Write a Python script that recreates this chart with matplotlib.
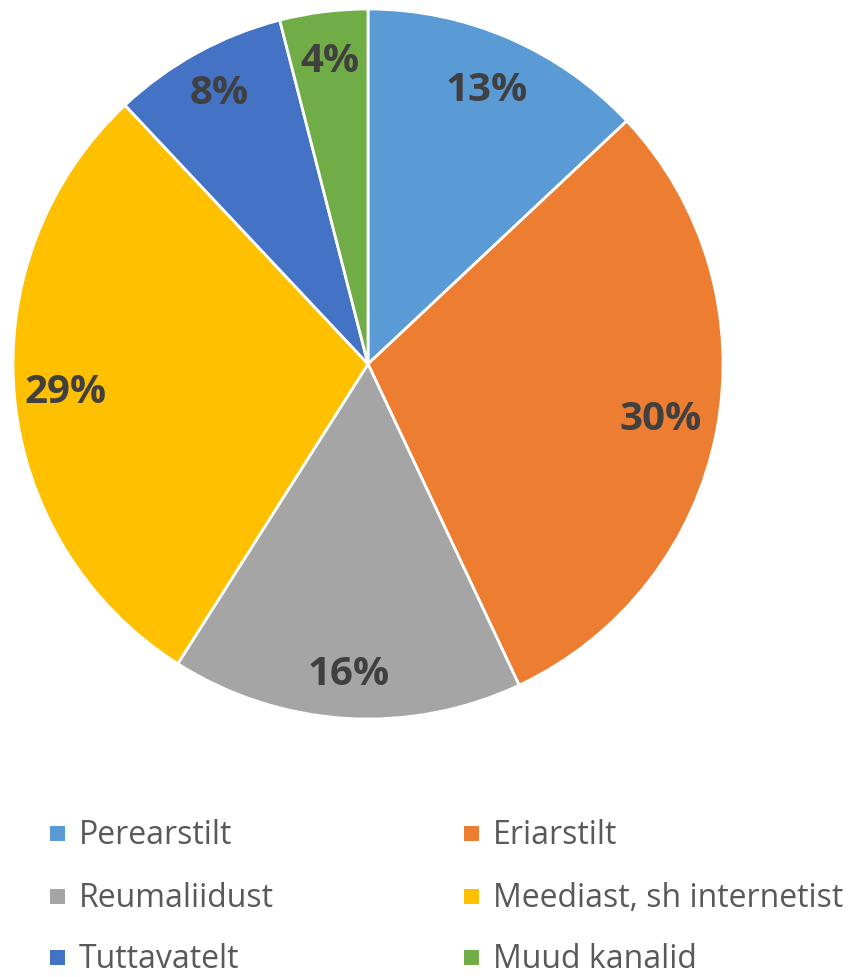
import matplotlib
matplotlib.use('Agg')
import matplotlib.pyplot as plt
import matplotlib.patches as mpatches

categories = ['Perearstilt', 'Eriarstilt', 'Reumaliidust',
              'Meediast, sh internetist', 'Tuttavatelt', 'Muud kanalid']
shares = [13, 30, 16, 29, 8, 4]
colors = ['#5B9BD5', '#ED7D31', '#A5A5A5', '#FFC000', '#4472C4', '#70AD47']

# label distance from centre (fraction of radius), per slice
label_dist = [0.84, 0.84, 0.875, 0.855, 0.87, 0.86]

plt.rcParams['font.family'] = ['Open Sans', 'DejaVu Sans']

W, H = 856, 977
fig = plt.figure(figsize=(W / 100, H / 100), dpi=100)
# pie area: center ~(368, 364) px, radius ~355 px
ax = fig.add_axes([13 / W, (H - 364 - 355) / H, 710 / W, 710 / H])

wedges, texts, autotexts = ax.pie(
    shares, colors=colors, startangle=90, counterclock=False,
    autopct='%1.0f%%', pctdistance=1.0, radius=1,
    wedgeprops=dict(edgecolor='white', linewidth=2, clip_on=False),
    textprops=dict(fontsize=29, fontweight='bold', color='#404040'))
for t, d in zip(autotexts, label_dist):
    x, y = t.get_position()
    t.set_position((x * d, y * d))
ax.set_xlim(-1, 1)
ax.set_ylim(-1, 1)
ax.set_aspect('equal')
ax.axis('off')

# legend at the bottom, two columns filled row by row
col_x = [57, 471]
baseline_y = [844, 907, 968]
sq = 15
for i, (lab, c) in enumerate(zip(categories, colors)):
    x0 = col_x[i % 2]
    yb = baseline_y[i // 2]
    fig.patches.append(mpatches.Rectangle(
        ((x0 - sq / 2) / W, (H - yb + 3) / H), sq / W, sq / H,
        transform=fig.transFigure, facecolor=c, edgecolor='none'))
    fig.text((x0 + 22) / W, (H - yb) / H, lab, fontsize=23,
             color='#595959', ha='left', va='baseline')

fig.savefig('out.png', dpi=100)
